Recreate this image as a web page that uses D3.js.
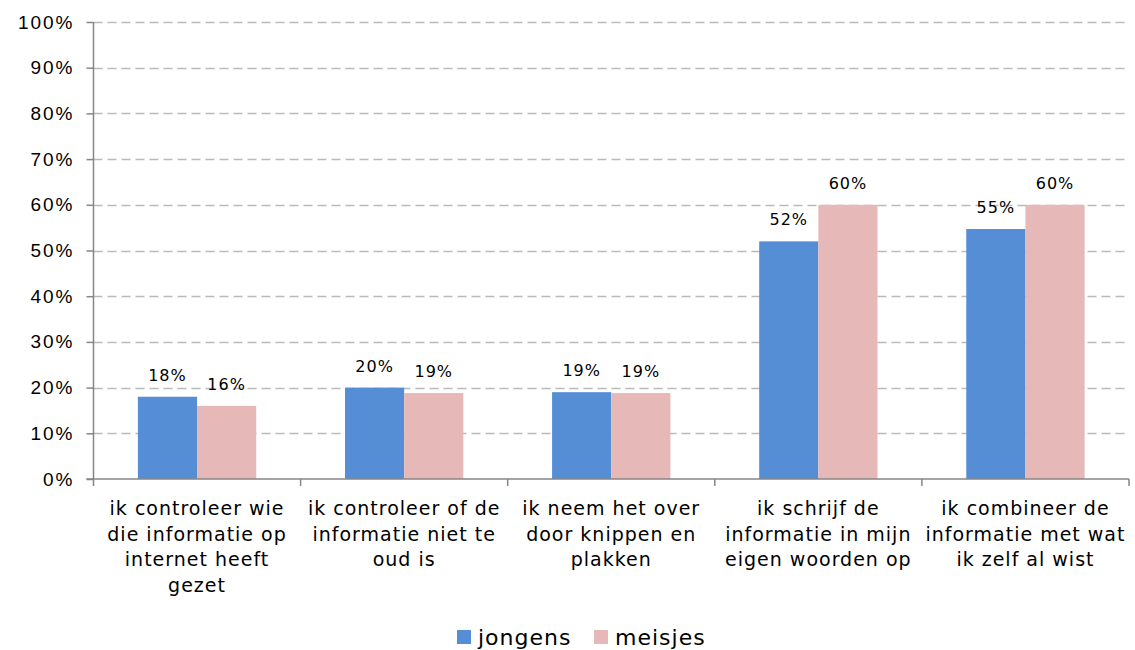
<!DOCTYPE html>
<html>
<head>
<meta charset="utf-8">
<script src="https://cdn.jsdelivr.net/npm/d3@7"></script>
<style>
  body { margin: 0; background: #fff; }
  svg { font-family: "DejaVu Sans", Verdana, sans-serif; }
</style>
</head>
<body>
<svg id="chart" width="1135" height="650"></svg>
<script>
// chart data
const categories = [
    "ik controleer wie die informatie op internet heeft gezet",
    "ik controleer of de informatie niet te oud is",
    "ik neem het over door knippen en plakken",
    "ik schrijf de informatie in mijn eigen woorden op",
    "ik combineer de informatie met wat ik zelf al wist"
];
// wrapped lines, as in the picture
const categoryLines = [
    ["ik controleer wie", "die informatie op", "internet heeft", "gezet"],
    ["ik controleer of de", "informatie niet te", "oud is"],
    ["ik neem het over", "door knippen en", "plakken"],
    ["ik schrijf de", "informatie in mijn", "eigen woorden op"],
    ["ik combineer de", "informatie met wat", "ik zelf al wist"]
];
const seriesNames = ["jongens", "meisjes"];
const jongens = [18, 20, 19, 52, 54.7];
const meisjes = [16, 18.8, 18.8, 60, 60];
const yTicks = [0, 10, 20, 30, 40, 50, 60, 70, 80, 90, 100];
const colors = ["#558ed5", "#e6b9b8"];

const svg = d3.select("#chart");
const margin = { left: 93.5, right: 6, top: 22, bottom: 171 };
const width = 1135, height = 650;

const x = d3.scaleBand()
    .domain(categories)
    .range([margin.left, width - margin.right]);

const y = d3.scaleLinear()
    .domain([0, 100])
    .range([height - margin.bottom, margin.top]);

// gridlines
svg.append("g")
    .selectAll("line")
    .data(yTicks.filter(t => t > 0))
    .enter().append("line")
    .attr("x1", margin.left)
    .attr("x2", width - margin.right)
    .attr("y1", d => Math.round(y(d)) + 0.5)
    .attr("y2", d => Math.round(y(d)) + 0.5)
    .style("stroke", "#bababa")
    .style("stroke-width", "1.5px")
    .style("stroke-dasharray", "9,5");

// bars
const inner = d3.scaleBand()
    .domain(seriesNames)
    .range([0, x.bandwidth()])
    .paddingOuter(0.75)
    .paddingInner(0);

const seriesData = [jongens, meisjes];
seriesNames.forEach((name, si) => {
    const grp = svg.append("g").attr("class", "series-" + name);
    grp.selectAll("rect")
        .data(categories.map((c, i) => ({ c: c, v: seriesData[si][i] })))
        .enter().append("rect")
        .attr("x", d => x(d.c) + inner(name))
        .attr("width", inner.bandwidth())
        .attr("y", d => y(d.v))
        .attr("height", d => y(0) - y(d.v))
        .style("fill", colors[si]);

    grp.selectAll("text")
        .data(categories.map((c, i) => ({ c: c, v: seriesData[si][i] })))
        .enter().append("text")
        .attr("x", d => x(d.c) + inner(name) + inner.bandwidth() / 2)
        .attr("y", d => y(d.v) - 16)
        .attr("text-anchor", "middle")
        .style("font-size", "16px")
        .style("letter-spacing", "1px")
        .style("fill", "#000")
        .text(d => Math.round(d.v) + "%");
});

// y axis
const yAxis = d3.axisLeft(y)
    .tickValues(yTicks)
    .tickSize(7)
    .tickPadding(12)
    .tickFormat(d => d + "%");

const yg = svg.append("g")
    .attr("transform", `translate(${margin.left},0)`)
    .call(yAxis);
yg.selectAll("line, path").style("stroke", "#868686").style("stroke-width", "1.5px");
yg.select("path").attr("d", `M0,${y(100)}V${y(0)}`);
yg.selectAll("text")
    .style("font-size", "19px")
    .style("letter-spacing", "2px")
    .style("fill", "#000");

// x axis
const xg = svg.append("g")
    .attr("transform", `translate(0,${y(0)})`);
xg.append("line")
    .attr("x1", margin.left - 7)
    .attr("x2", width - margin.right)
    .style("stroke", "#868686")
    .style("stroke-width", "1.5px");
xg.selectAll("line.tick")
    .data(categories)
    .enter().append("line")
    .attr("class", "tick")
    .attr("x1", d => x(d) + x.bandwidth())
    .attr("x2", d => x(d) + x.bandwidth())
    .attr("y1", 0)
    .attr("y2", 7)
    .style("stroke", "#868686")
    .style("stroke-width", "1.5px");
xg.append("line")
    .attr("x1", margin.left).attr("x2", margin.left)
    .attr("y1", 0).attr("y2", 7)
    .style("stroke", "#868686")
    .style("stroke-width", "1.5px");

const labels = xg.selectAll("text.cat")
    .data(categories)
    .enter().append("text")
    .attr("class", "cat")
    .attr("text-anchor", "middle")
    .style("font-size", "19px")
    .style("letter-spacing", "1px")
    .style("fill", "#000");
labels.each(function (d, i) {
    const t = d3.select(this);
    categoryLines[i].forEach((line, li) => {
        t.append("tspan")
            .attr("x", x(d) + x.bandwidth() / 2)
            .attr("y", 36 + li * 25.5)
            .text(line);
    });
});

// legend
const legend = svg.append("g").attr("transform", "translate(457,630)");
const legX = [0, 137];
seriesNames.forEach((name, i) => {
    const lg = legend.append("g").attr("transform", `translate(${legX[i]},0)`);
    lg.append("rect")
        .attr("width", 14)
        .attr("height", 14)
        .style("fill", colors[i]);
    lg.append("text")
        .attr("x", 21)
        .attr("y", 15)
        .style("font-size", "22px")
        .style("letter-spacing", "1px")
        .style("fill", "#000")
        .text(name);
});
</script>
</body>
</html>
